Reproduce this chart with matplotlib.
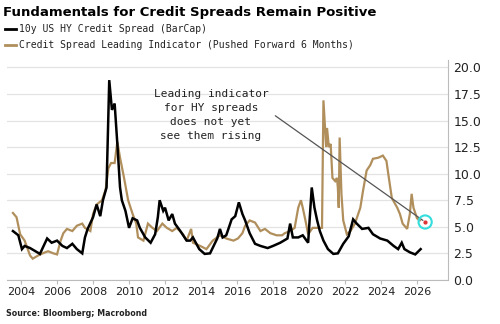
import matplotlib
matplotlib.use("Agg")
import matplotlib.pyplot as plt
import numpy as np

# ---- data (decimal year, value) ----
hy_years = [2003.55, 2003.85, 2004.05, 2004.2, 2004.5, 2004.8, 2005.05, 2005.2, 2005.45, 2005.7,
            2006.0, 2006.3, 2006.55, 2006.85, 2007.1, 2007.4, 2007.55, 2007.7, 2008.0, 2008.2,
            2008.4, 2008.55, 2008.75, 2008.9, 2009.05, 2009.2, 2009.35, 2009.5, 2009.6, 2009.8,
            2010.0, 2010.2, 2010.45, 2010.6, 2010.9, 2011.2, 2011.45, 2011.6, 2011.7, 2011.9,
            2012.0, 2012.2, 2012.4, 2012.55, 2012.85, 2013.2, 2013.4, 2013.55, 2013.9, 2014.2,
            2014.5, 2014.9, 2015.05, 2015.2, 2015.4, 2015.7, 2015.9, 2016.1, 2016.3, 2016.45,
            2016.7, 2017.0, 2017.3, 2017.7, 2018.0, 2018.4, 2018.8, 2018.95, 2019.1, 2019.4,
            2019.65, 2019.95, 2020.15, 2020.3, 2020.45, 2020.6, 2020.8, 2021.05, 2021.35, 2021.6,
            2021.9, 2022.2, 2022.45, 2022.65, 2022.95, 2023.3, 2023.55, 2023.95, 2024.35, 2024.7,
            2024.95, 2025.15, 2025.3, 2025.6, 2025.9, 2026.2]
hy_values = [4.6, 4.2, 2.9, 3.2, 3.0, 2.7, 2.45, 3.0, 3.9, 3.5,
             3.7, 3.2, 3.0, 3.4, 2.9, 2.5, 4.0, 4.8, 5.9, 7.1,
             6.0, 7.5, 8.7, 18.8, 16.0, 16.6, 12.8, 8.7, 7.5, 6.5,
             4.9, 5.8, 5.6, 4.9, 4.0, 3.5, 4.3, 5.9, 7.5, 6.5,
             6.8, 5.6, 6.2, 5.3, 4.6, 3.7, 3.7, 4.0, 2.9, 2.45,
             2.5, 3.9, 4.8, 4.0, 4.2, 5.7, 6.0, 7.3, 6.2, 5.6,
             4.4, 3.4, 3.2, 3.0, 3.2, 3.5, 3.9, 5.3, 4.0, 4.0,
             4.2, 3.5, 8.7, 6.8, 5.6, 4.6, 3.7, 2.9, 2.45, 2.5,
             3.4, 4.1, 5.7, 5.3, 4.8, 4.9, 4.3, 3.9, 3.7, 3.2,
             2.9, 3.5, 2.9, 2.6, 2.4, 2.9]

li_years = [2003.55, 2003.75, 2003.95, 2004.2, 2004.5, 2004.65, 2004.95, 2005.2, 2005.5, 2005.8,
            2006.0, 2006.2, 2006.35, 2006.55, 2006.85, 2007.1, 2007.4, 2007.55, 2007.85, 2008.0,
            2008.2, 2008.5, 2008.7, 2008.85, 2009.0, 2009.2, 2009.35, 2009.5, 2009.7, 2009.95,
            2010.2, 2010.4, 2010.5, 2010.8, 2011.05, 2011.3, 2011.55, 2011.85, 2012.1, 2012.4,
            2012.65, 2013.0, 2013.2, 2013.45, 2013.55, 2013.95, 2014.3, 2014.65, 2015.05, 2015.4,
            2015.8, 2016.05, 2016.3, 2016.45, 2016.7, 2017.0, 2017.3, 2017.55, 2017.85, 2018.2,
            2018.5, 2018.65, 2018.95, 2019.2, 2019.4, 2019.55, 2019.65, 2019.8, 2019.95, 2020.2,
            2020.5, 2020.72, 2020.8, 2020.95, 2021.0, 2021.1, 2021.2, 2021.3, 2021.45, 2021.55,
            2021.6, 2021.65, 2021.7, 2021.8, 2021.9, 2022.1, 2022.3, 2022.55, 2022.85, 2023.0,
            2023.2, 2023.4, 2023.55, 2023.85, 2024.1, 2024.3, 2024.4, 2024.6, 2024.9, 2025.05,
            2025.2, 2025.45, 2025.6, 2025.7, 2025.8, 2026.0, 2026.15]
li_values = [6.3, 5.9, 4.3, 3.7, 2.3, 2.0, 2.3, 2.5, 2.7, 2.5,
             2.4, 3.7, 4.4, 4.8, 4.6, 5.1, 5.3, 4.9, 4.6, 6.2,
             7.1, 7.5, 8.5, 10.5, 11.0, 11.0, 13.0, 11.5, 9.8, 7.5,
             6.2, 5.3, 4.0, 3.7, 5.3, 4.9, 4.6, 5.3, 4.9, 4.6,
             4.9, 4.3, 3.7, 4.8, 3.5, 3.2, 2.9, 3.7, 4.2, 3.9,
             3.7, 3.9, 4.4, 5.1, 5.6, 5.4, 4.6, 4.8, 4.4, 4.2,
             4.2, 4.4, 4.6, 4.9, 6.8, 7.5, 6.8, 5.6, 4.3, 4.9,
             4.9, 4.9, 16.9, 12.5, 14.3, 12.5, 12.8, 9.6, 9.3, 9.6,
             8.7, 6.8, 13.4, 8.1, 5.6, 4.3, 4.6, 5.3, 6.8, 8.4,
             10.3, 10.8, 11.4, 11.5, 11.7, 11.2, 10.0, 7.7, 6.8, 6.2,
             5.3, 4.8, 6.2, 8.1, 6.8, 5.8, 5.6]

y_ticks = [0.0, 2.5, 5.0, 7.5, 10.0, 12.5, 15.0, 17.5, 20.0]
x_ticks = [2004, 2006, 2008, 2010, 2012, 2014, 2016, 2018, 2020, 2022, 2024, 2026]

title = "Fundamentals for Credit Spreads Remain Positive"
legend_labels = ["10y US HY Credit Spread (BarCap)",
                 "Credit Spread Leading Indicator (Pushed Forward 6 Months)"]
annotation = "Leading indicator\nfor HY spreads\ndoes not yet\nsee them rising"
source = "Source: Bloomberg; Macrobond"

black = "#000000"
tan = "#b08f5c"

fig = plt.figure(figsize=(5.0, 3.24), dpi=100)
ax = fig.add_axes([0.014, 0.136, 0.882, 0.679])

ax.plot(li_years, li_values, color=tan, lw=1.6, zorder=3, solid_joinstyle="miter")
ax.plot(hy_years, hy_values, color=black, lw=1.8, zorder=4, solid_joinstyle="miter")

ax.set_xlim(2003.22, 2027.72)
ax.set_ylim(0, 20.7)

ax.yaxis.tick_right()
ax.set_yticks(y_ticks)
ax.set_yticklabels([f"{v:.1f}" for v in y_ticks], fontsize=9, color="#222222")
ax.set_xticks(x_ticks)
ax.set_xticklabels([str(v) for v in x_ticks], fontsize=8, color="#222222")
ax.tick_params(axis="y", length=0, pad=4)
ax.tick_params(axis="x", length=3, color="#bbbbbb", pad=2)
for s in ["left", "top"]:
    ax.spines[s].set_visible(False)
ax.spines["right"].set_color("#bbbbbb")
ax.spines["bottom"].set_color("#bbbbbb")
ax.grid(axis="y", color="#e3e3e3", lw=0.9)
ax.set_axisbelow(True)

# annotation
ax.text(2014.55, 17.95, annotation, ha="center", va="top", fontsize=8,
        family="DejaVu Sans Mono", color="#222222", linespacing=1.5, zorder=5)
ax.annotate("", xy=(2026.45, 5.45), xytext=(2018.0, 15.6),
            arrowprops=dict(arrowstyle="-", color="#555555", lw=0.9), zorder=5)
ax.scatter([2026.45], [5.45], s=90, facecolors="none", edgecolors="#33dddd", lw=1.5, zorder=6)
ax.scatter([2026.45], [5.45], s=4, color="#dd3333", zorder=7)

# title, legend, source
fig.text(0.006, 0.962, title, fontsize=9.5, fontweight="bold", ha="left", va="center")
fig.lines.append(plt.Line2D([0.01, 0.032], [0.911, 0.911], color=black, lw=2, transform=fig.transFigure))
fig.lines.append(plt.Line2D([0.01, 0.032], [0.862, 0.862], color=tan, lw=2, transform=fig.transFigure))
fig.text(0.038, 0.911, legend_labels[0], fontsize=7, family="DejaVu Sans Mono", ha="left", va="center", color="#222222")
fig.text(0.038, 0.862, legend_labels[1], fontsize=7, family="DejaVu Sans Mono", ha="left", va="center", color="#222222")
fig.text(0.012, 0.031, source, fontsize=5.7, fontweight="bold", ha="left", va="center", color="#222222")

fig.savefig("out.png", dpi=100)
